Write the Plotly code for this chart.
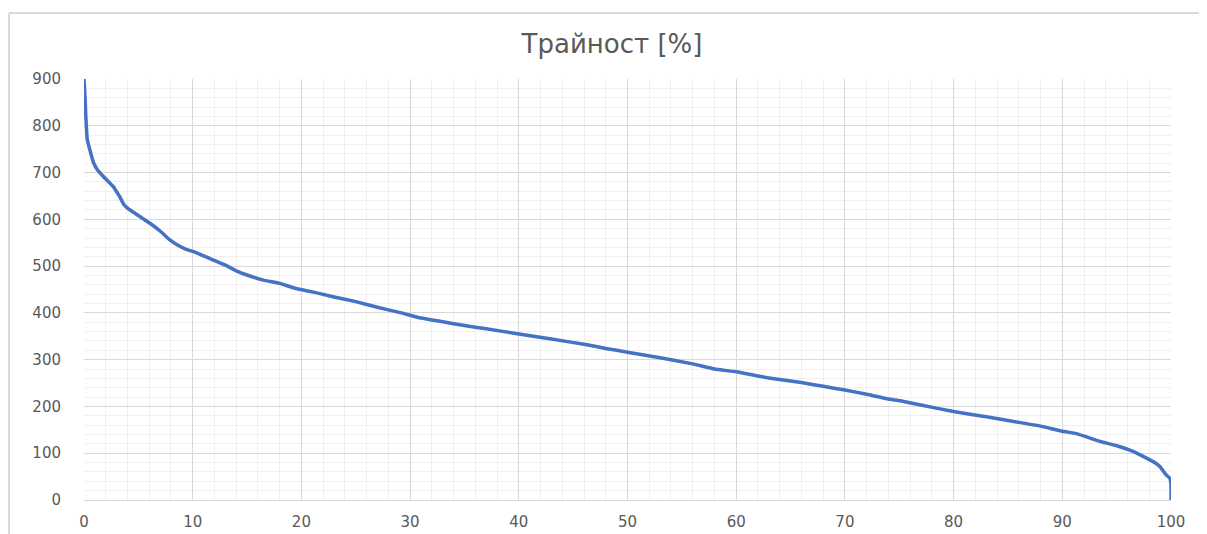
import plotly.graph_objects as go

# Duration curve data
duration_pct = [0, 0.1, 0.15, 0.2, 0.25, 0.3, 0.5, 0.86, 1.2, 1.8, 2.4, 2.7, 3.0, 3.3, 3.6, 4.0, 4.5,
                5.2, 6.1, 7.0, 7.9, 8.6, 9.4, 10.2, 11.0, 11.9, 13.0, 14.0, 15.0, 16.5, 18.0,
                19.5, 21.0, 23.0, 25.0, 27.0, 29.0, 31.0, 33.0, 35.0, 37.0, 40.0, 43.0,
                46.0, 48.0, 50.0, 53.0, 56.0, 58.0, 60.0, 63.0, 66.0, 68.0, 70.0, 72.0,
                74.0, 75.1, 77.0, 80.0, 83.0, 86.0, 88.0, 90.0, 91.3, 93.5, 95.0, 96.5,
                97.8, 98.5, 99.0, 99.5, 99.9, 100.0, 100.0]
load_values = [900, 860, 830, 805, 785, 770, 752, 722, 707, 691, 677, 670, 659, 648, 634, 624, 616,
               605, 591, 575, 556, 545, 536, 530, 522, 513, 502, 490, 481, 470, 463,
               452, 445, 434, 424, 412, 401, 389, 381, 373, 366, 355, 344,
               333, 324, 316, 304, 291, 280, 274, 261, 251, 243, 235, 226,
               216, 212, 203, 189, 178, 166, 158, 147, 142, 125, 116, 104,
               89, 80, 71, 55, 46, 33, 0]

x_ticks = list(range(0, 101, 10))
y_ticks = list(range(0, 901, 100))
title_text = "Трайност [%]"

# page has an 8px body margin; figure placed at (8, 8) in the 1207x534 window
OFF = 8
W, H = 1207 - 2 * OFF, 534 - OFF
L, T = 84 - OFF, 79 - OFF
R = W - (1171 - OFF)
B = H - (500 - OFF)
pw, ph = W - L - R, H - T - B

fig = go.Figure()
fig.add_trace(go.Scatter(
    x=duration_pct, y=load_values, mode="lines",
    line=dict(color="#4472C4", width=3.5, shape="spline", smoothing=0.4),
    showlegend=False, hoverinfo="skip", cliponaxis=False))

axis_font = dict(family="DejaVu Sans", size=15, color="#595959")
fig.update_layout(
    width=W, height=H,
    margin=dict(l=L, r=R, t=T, b=B, autoexpand=False),
    paper_bgcolor="white", plot_bgcolor="white",
    title=dict(text=title_text, x=(612 - OFF) / W, xanchor="center",
               y=1 - (44 - OFF) / H, yanchor="middle",
               font=dict(family="DejaVu Sans", size=26, color="#595959")),
    xaxis=dict(range=[0, 100], tickvals=x_ticks, ticktext=[str(v) for v in x_ticks],
               showgrid=True, gridcolor="#d9d9d9", gridwidth=1,
               minor=dict(dtick=2, showgrid=True, gridcolor="#f0f0f0", gridwidth=1),
               showline=True, linecolor="#d9d9d9", linewidth=1, automargin=False,
               zeroline=False, ticks="", tickfont=axis_font, ticklabelstandoff=8,
               fixedrange=True),
    yaxis=dict(range=[0, 900], tickvals=y_ticks, ticktext=[str(v) for v in y_ticks],
               showgrid=True, gridcolor="#d9d9d9", gridwidth=1,
               minor=dict(dtick=20, showgrid=True, gridcolor="#f0f0f0", gridwidth=1),
               showline=False, zeroline=False, ticks="", tickfont=axis_font,
               automargin=False, ticklabelstandoff=22, fixedrange=True),
)

# Outer chart-area border (partially cropped in the reference)
bx = (1 - L) / pw
by_top = (H - B - (13 - OFF)) / ph
fig.add_shape(type="line", xref="paper", yref="paper", x0=bx, x1=bx, y0=-0.2, y1=by_top,
              line=dict(color="#d9d9d9", width=2))
fig.add_shape(type="line", xref="paper", yref="paper", x0=bx, x1=1.2, y0=by_top, y1=by_top,
              line=dict(color="#d9d9d9", width=2))

fig.write_html("out.html")
